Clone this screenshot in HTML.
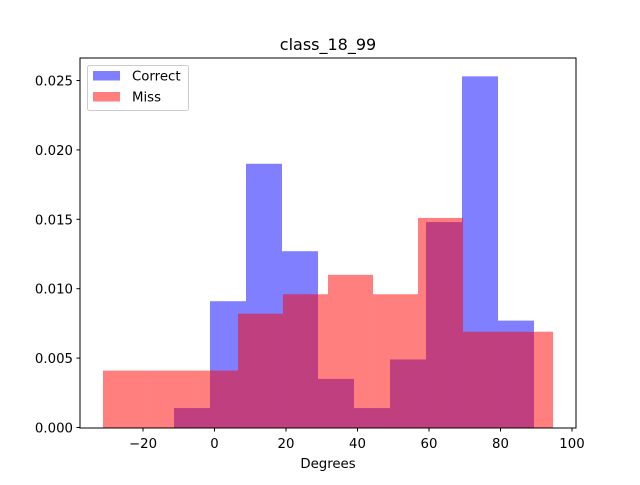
<!DOCTYPE html>
<html><head><meta charset="utf-8"><style>body{margin:0;background:#fff}svg{font-family:"DejaVu Sans","Liberation Sans",sans-serif}</style></head>
<body>
<svg id="chart" width="640" height="480" viewBox="0 0 640 480">
<rect width="640" height="480" fill="#fff"/>
<g id="bars"></g>
<rect x="80" y="58" width="496" height="370" fill="none" stroke="#000" stroke-width="1"/>
<g id="axes"></g>
<text x="328" y="50" font-size="16" text-anchor="middle">class_18_99</text>
<text x="328" y="468" font-size="13.3" text-anchor="middle">Degrees</text>
<g>
<rect x="87.5" y="65.5" width="101" height="45" rx="2" fill="#fff" fill-opacity="0.8" stroke="#ccc"/>
<rect x="93" y="71" width="27" height="9.5" fill="#0000ff" fill-opacity="0.5"/>
<text x="132" y="80.5" font-size="13.3">Correct</text>
<rect x="93" y="92" width="27" height="9.5" fill="#ff0000" fill-opacity="0.5"/>
<text x="132" y="101.5" font-size="13.3">Miss</text>
</g>
</svg>
<script>
const correctStart = -11.33;
const correctWidth = 10.07;
const correctValues = [0.0014,0.0091,0.0190,0.0127,0.0035,0.0014,0.0049,0.0148,0.0253,0.0077];
const missStart = -31.2;
const missWidth = 12.59;
const missValues = [0.0041,0.0041,0.0041,0.0082,0.0096,0.0110,0.0096,0.0151,0.0069,0.0069];
const xTicks = [-20,0,20,40,60,80,100];
const yTicks = [0,0.005,0.010,0.015,0.020,0.025];
const yTickLabels = ["0.000","0.005","0.010","0.015","0.020","0.025"];

const NS="http://www.w3.org/2000/svg";
const xs = v => 214.5 + v*3.575;
const ys = v => 427.5 - v*13880;
const bars=document.getElementById('bars');
function drawSeries(start,width,vals,color,name){
  vals.forEach((v,i)=>{
    const r=document.createElementNS(NS,'rect');
    const x0=xs(start+i*width), x1=xs(start+(i+1)*width);
    r.setAttribute('x',x0);r.setAttribute('width',x1-x0);
    r.setAttribute('y',ys(v));r.setAttribute('height',ys(0)-ys(v));
    r.setAttribute('fill',color);r.setAttribute('fill-opacity','0.5');
    
    
    bars.appendChild(r);
  });
}
drawSeries(correctStart,correctWidth,correctValues,'#0000ff','correct');
drawSeries(missStart,missWidth,missValues,'#ff0000','miss');
const axes=document.getElementById('axes');
xTicks.forEach(t=>{
  const x=xs(t);
  const l=document.createElementNS(NS,'line');
  l.setAttribute('x1',x);l.setAttribute('x2',x);l.setAttribute('y1',428);l.setAttribute('y2',431.5);l.setAttribute('stroke','#000');
  
  
  axes.appendChild(l);
  const tx=document.createElementNS(NS,'text');
  tx.setAttribute('x',x);tx.setAttribute('y',448);tx.setAttribute('font-size','13.3');tx.setAttribute('text-anchor','middle');
  tx.textContent=(t<0?'\u2212'+(-t):t);
  
  
  axes.appendChild(tx);
});
yTicks.forEach((t,i)=>{
  const y=ys(t);
  const l=document.createElementNS(NS,'line');
  l.setAttribute('x1',76.5);l.setAttribute('x2',80);l.setAttribute('y1',y);l.setAttribute('y2',y);l.setAttribute('stroke','#000');
  
  
  axes.appendChild(l);
  const tx=document.createElementNS(NS,'text');
  tx.setAttribute('x',73);tx.setAttribute('y',y+5);tx.setAttribute('font-size','13.3');tx.setAttribute('text-anchor','end');
  tx.textContent=yTickLabels[i];
  
  
  axes.appendChild(tx);
});
</script>
</body></html>
